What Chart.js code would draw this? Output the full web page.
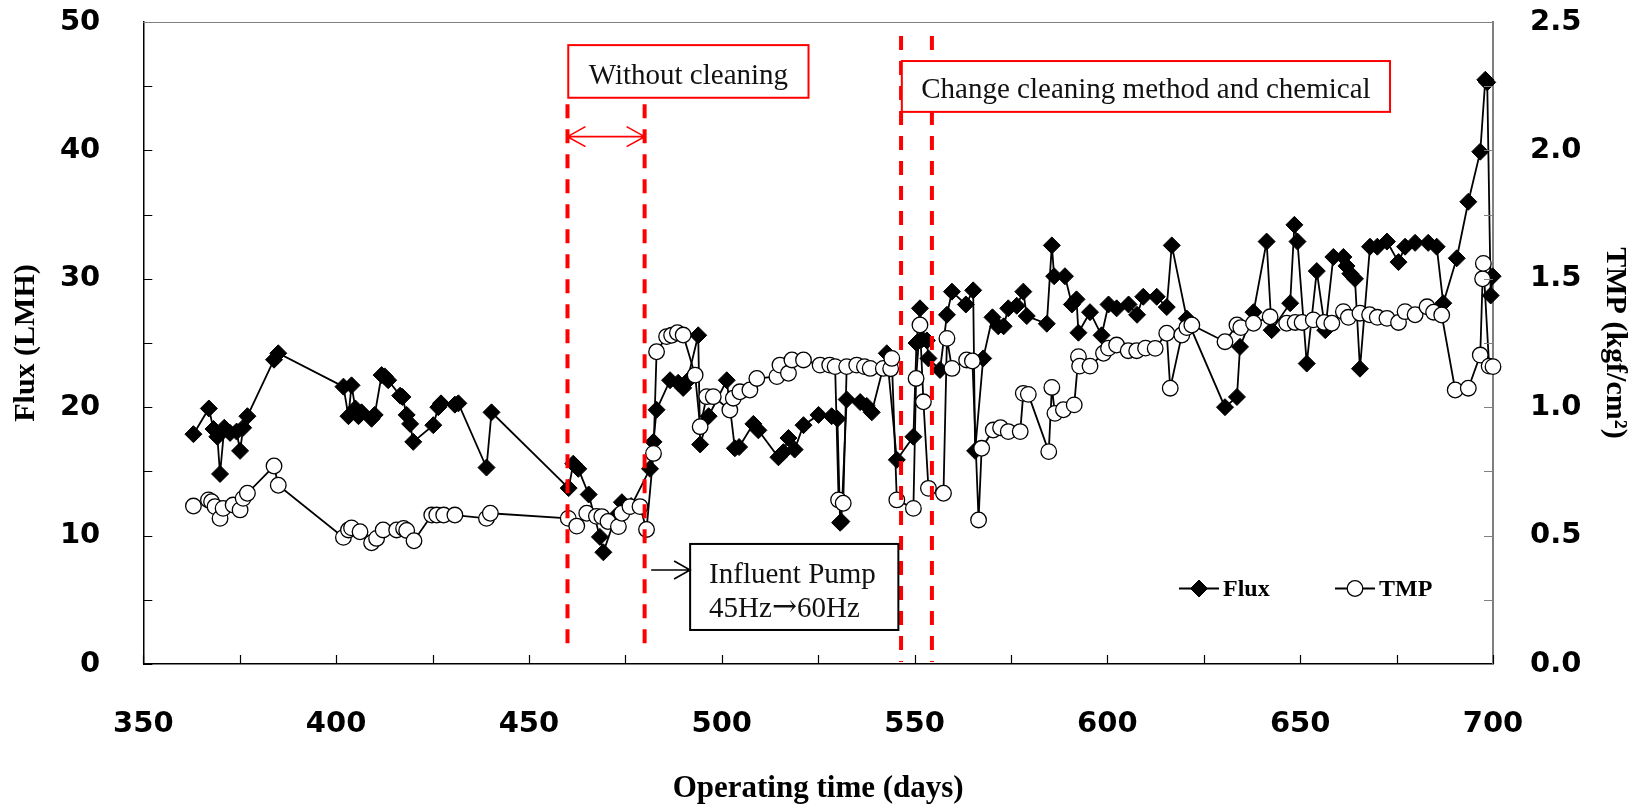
<!DOCTYPE html>
<html>
<head>
<meta charset="utf-8">
<script src="https://cdn.jsdelivr.net/npm/chart.js@4/dist/chart.umd.min.js"></script>
<style>
  body { margin: 0; background: #fff; }
  canvas { display: block; }
</style>
</head>
<body>
<canvas id="fluxChart" width="1642" height="810"></canvas>
<script>
// operating days and flux (LMH)
const fluxDays = [363.0, 367.0, 368.2, 369.2, 369.9, 371.0, 372.5, 374.2, 375.1, 375.9, 377.0, 383.9, 385.0,
  401.9, 403.2, 404.0, 405.0, 405.8, 406.6, 409.2, 410.0, 411.8, 412.6, 413.5, 416.6, 417.2, 418.3, 419.2, 420.0,
  425.2, 426.5, 427.2, 430.8, 431.7, 439.0, 440.3, 460.3, 461.5, 462.8, 465.5, 468.4, 469.3, 472.5, 474.1, 476.5,
  481.4, 482.3, 483.1, 486.6, 488.7, 490.0, 491.0, 493.9, 494.4, 496.6, 501.3, 503.4, 504.5, 508.2, 509.5,
  514.7, 516.0, 517.3, 518.9, 521.2, 525.1, 528.5, 530.0, 530.7, 531.0, 532.4, 535.9, 537.6, 538.9, 542.8,
  545.4, 549.7, 550.5, 551.4, 552.0, 553.2, 553.6, 556.6, 558.4, 559.7, 563.3, 565.2, 565.7, 567.8, 570.2,
  571.7, 573.1, 574.3, 576.5, 578.2, 579.1, 584.3, 585.6, 586.2, 589.0, 590.8, 592.0, 592.5, 595.5, 598.5,
  600.3, 602.4, 605.5, 607.7, 609.3, 612.8, 615.4, 616.7, 620.6, 630.5, 633.6, 634.4, 637.9, 641.3, 642.6,
  647.4, 648.5, 649.3, 651.7, 654.3, 656.5, 658.6, 661.2, 662.0, 663.0, 664.2, 665.5, 668.1, 670.0, 672.5,
  675.5, 677.2, 679.8, 683.2, 685.4, 687.1, 690.6, 693.6, 696.7, 698.0, 698.5, 699.4, 699.9];
const fluxValues = [17.9, 19.9, 18.3, 17.7, 14.8, 18.4, 18.0, 18.1, 16.6, 18.4, 19.3, 23.7, 24.2,
  21.6, 19.3, 21.7, 19.9, 19.3, 19.6, 19.1, 19.4, 22.5, 22.4, 22.1, 20.9, 20.8, 19.4, 18.7, 17.3,
  18.6, 20.0, 20.3, 20.2, 20.3, 15.3, 19.6, 13.7, 15.6, 15.2, 13.2, 9.9, 8.7, 11.5, 12.6, 12.3,
  15.2, 17.3, 19.8, 22.1, 21.9, 21.5, 22.0, 25.6, 17.1, 19.3, 22.1, 16.8, 16.9, 18.7, 18.2,
  16.1, 16.5, 17.6, 16.7, 18.6, 19.4, 19.3, 19.1, 11.0, 11.1, 20.6, 20.4, 20.1, 19.6, 24.2,
  15.9, 17.7, 25.0, 27.7, 25.3, 25.2, 23.8, 22.9, 27.2, 29.0, 28.0, 29.1, 16.6, 23.8, 27.0,
  26.3, 26.3, 27.7, 27.9, 29.0, 27.1, 26.5, 32.6, 30.2, 30.2, 28.0, 28.4, 25.8, 27.4, 25.6,
  28.0, 27.7, 28.0, 27.2, 28.6, 28.6, 27.8, 32.6, 26.9, 20.0, 20.8, 24.7, 27.4, 32.9, 26.0,
  28.1, 34.2, 32.9, 23.4, 30.6, 26.0, 31.7, 31.7, 31.0, 30.4, 30.0, 23.0, 32.5, 32.5, 32.9,
  31.3, 32.5, 32.8, 32.8, 32.5, 28.1, 31.6, 36.0, 39.9, 45.5, 45.3, 28.7, 30.2];

// operating days and TMP (kgf/cm2)
const tmpDays = [363.0, 366.9, 367.7, 368.6, 369.9, 370.7, 373.3, 375.1, 375.9, 377.0, 383.9, 385.0,
  401.9, 403.2, 404.0, 406.2, 409.2, 410.5, 412.2, 415.7, 417.5, 418.3, 420.2, 424.8, 426.1, 427.9, 430.8,
  439.0, 440.0, 460.2, 462.4, 465.0, 467.5, 468.9, 470.5, 473.2, 474.1, 476.2, 478.8, 480.5, 482.3, 483.1,
  485.7, 487.0, 488.5, 490.0, 493.1, 494.4, 496.1, 497.8, 502.1, 503.0, 504.7, 507.3, 509.1, 514.3, 515.1,
  517.3, 518.2, 521.2, 525.5, 528.0, 529.4, 530.3, 531.5, 532.4, 535.0, 537.0, 538.5, 541.9, 543.8, 544.1,
  545.4, 549.7, 550.4, 551.4, 552.3, 553.6, 557.5, 558.4, 559.7, 563.5, 565.0, 566.6, 567.4, 570.4, 572.3,
  574.3, 577.4, 578.2, 579.5, 584.8, 585.6, 586.4, 588.6, 591.4, 592.5, 592.8, 595.5, 599.0, 600.3, 602.4,
  605.4, 607.6, 609.9, 612.4, 615.4, 616.3, 619.3, 620.6, 621.9, 630.5, 633.6, 634.6, 637.9, 642.2, 646.5,
  648.7, 650.5, 653.4, 656.2, 658.2, 661.2, 662.5, 665.5, 668.0, 670.0, 672.5, 675.5, 677.2, 679.8, 682.9,
  684.6, 686.7, 690.2, 693.6, 696.7, 697.3, 697.5, 699.0, 700.0];
const tmpValues = [0.615, 0.639, 0.632, 0.613, 0.567, 0.606, 0.619, 0.600, 0.645, 0.665, 0.771, 0.696,
  0.493, 0.522, 0.530, 0.515, 0.472, 0.489, 0.522, 0.522, 0.528, 0.520, 0.480, 0.580, 0.580, 0.580, 0.580,
  0.567, 0.587, 0.567, 0.537, 0.587, 0.575, 0.574, 0.555, 0.535, 0.587, 0.613, 0.613, 0.524, 0.820, 1.216,
  1.275, 1.280, 1.290, 1.281, 1.125, 0.924, 1.041, 1.041, 0.989, 1.035, 1.060, 1.067, 1.112, 1.119, 1.164,
  1.132, 1.184, 1.184, 1.164, 1.164, 1.158, 0.639, 0.626, 1.158, 1.164, 1.158, 1.151, 1.151, 1.150, 1.190,
  0.639, 0.606, 1.112, 1.320, 1.021, 0.684, 0.665, 1.268, 1.151, 1.184, 1.180, 0.561, 0.840, 0.911, 0.920,
  0.905, 0.905, 1.054, 1.050, 0.827, 1.077, 0.976, 0.990, 1.009, 1.197, 1.160, 1.160, 1.210, 1.230, 1.242,
  1.220, 1.220, 1.230, 1.229, 1.288, 1.074, 1.281, 1.310, 1.320, 1.255, 1.320, 1.310, 1.327, 1.352, 1.327,
  1.330, 1.330, 1.340, 1.330, 1.327, 1.372, 1.350, 1.366, 1.360, 1.350, 1.346, 1.330, 1.372, 1.360, 1.391,
  1.370, 1.359, 1.067, 1.074, 1.203, 1.500, 1.560, 1.160, 1.158];

const seriesNames = ['Flux', 'TMP'];
const cleaningLines = [460, 480, 546.5, 554.5];

const serif = '"Liberation Serif", "Times New Roman", serif';
const sans = '"DejaVu Sans", Verdana, sans-serif';

function toPoints(xs, ys) {
  return xs.map((x, i) => ({ x: x, y: ys[i] }));
}

// inward tick marks and the grey top frame
const tickMarks = {
  id: 'tickMarks',
  afterDraw(chart) {
    const { ctx, chartArea: a, scales } = chart;
    const len = 9;
    ctx.save();
    ctx.lineWidth = 1.2;
    ctx.strokeStyle = '#000';
    ctx.beginPath();
    scales.x.ticks.forEach(t => {
      const px = Math.round(scales.x.getPixelForValue(t.value)) + 0.5;
      ctx.moveTo(px, a.bottom);
      ctx.lineTo(px, a.bottom - len);
    });
    scales.y.ticks.forEach(t => {
      const py = Math.round(scales.y.getPixelForValue(t.value)) + 0.5;
      ctx.moveTo(a.left, py);
      ctx.lineTo(a.left + len, py);
    });
    ctx.stroke();
    ctx.strokeStyle = '#808080';
    ctx.beginPath();
    scales.y1.ticks.forEach(t => {
      const py = Math.round(scales.y1.getPixelForValue(t.value)) + 0.5;
      ctx.moveTo(a.right, py);
      ctx.lineTo(a.right - len, py);
    });
    ctx.moveTo(a.left, a.top + 0.5);
    ctx.lineTo(a.right, a.top + 0.5);
    ctx.stroke();
    ctx.restore();
  }
};

function arrowHead(ctx, x, y, dir, len, half) {
  ctx.moveTo(x - dir * len, y - half);
  ctx.lineTo(x, y);
  ctx.lineTo(x - dir * len, y + half);
}

// red dashed cleaning lines, the text boxes and arrows
const notes = {
  id: 'notes',
  afterDatasetsDraw(chart) {
    const { ctx, scales } = chart;
    const X = v => scales.x.getPixelForValue(v);
    const Y = v => scales.y.getPixelForValue(v);
    ctx.save();

    ctx.strokeStyle = '#ff0000';
    ctx.lineWidth = 4;
    ctx.setLineDash([14, 11]);
    cleaningLines.forEach((d, i) => {
      const top = i < 2 ? 43.6 : 48.9;
      const bot = i < 2 ? 1.1 : 0.15;
      ctx.beginPath();
      ctx.moveTo(X(d), Y(top));
      ctx.lineTo(X(d), Y(bot));
      ctx.stroke();
    });
    ctx.setLineDash([]);

    // double arrow between the first two lines
    const ay = Y(41.07);
    ctx.lineWidth = 1.6;
    ctx.beginPath();
    ctx.moveTo(X(460), ay);
    ctx.lineTo(X(480), ay);
    arrowHead(ctx, X(460), ay, -1, 18, 10);
    arrowHead(ctx, X(480), ay, 1, 18, 10);
    ctx.stroke();

    const box = (d0, d1, f0, f1, color) => {
      const x0 = X(d0), x1 = X(d1), y0 = Y(f0), y1 = Y(f1);
      ctx.fillStyle = '#fff';
      ctx.fillRect(x0, y0, x1 - x0, y1 - y0);
      ctx.strokeStyle = color;
      ctx.lineWidth = 2;
      ctx.strokeRect(x0, y0, x1 - x0, y1 - y0);
      ctx.fillStyle = '#111';
      return { x0, x1, y0, y1 };
    };
    ctx.font = '29px ' + serif;
    ctx.textAlign = 'center';
    ctx.textBaseline = 'alphabetic';

    let b = box(460.2, 522.5, 48.2, 44.1, '#ff0000');
    ctx.fillText('Without cleaning', (b.x0 + b.x1) / 2, b.y0 + 0.73 * (b.y1 - b.y0));

    b = box(546.7, 673.3, 46.96, 43.0, '#ff0000');
    ctx.fillText('Change cleaning method and chemical', (b.x0 + b.x1) / 2, b.y0 + 0.73 * (b.y1 - b.y0));

    b = box(491.8, 545.8, 9.35, 2.65, '#000');
    ctx.textAlign = 'left';
    const tx = b.x0 + 19;
    ctx.fillText('Influent Pump', tx, b.y0 + 39);
    // second line: the arrow glyph is small in Liberation Serif, so use DejaVu for it
    const l2 = b.y0 + 73;
    ctx.fillText('45Hz', tx, l2);
    let w = ctx.measureText('45Hz').width;
    ctx.font = '30px "DejaVu Serif", serif';
    ctx.fillText('\u2192', tx + w, l2 - 1);
    w += ctx.measureText('\u2192').width;
    ctx.font = '29px ' + serif;
    ctx.fillText('60Hz', tx + w, l2);

    // small black arrow to the pump box
    const py = Y(7.32);
    ctx.strokeStyle = '#000';
    ctx.lineWidth = 1.6;
    ctx.beginPath();
    ctx.moveTo(X(481.7), py);
    ctx.lineTo(b.x0, py);
    arrowHead(ctx, b.x0, py, 1, 16, 9);
    ctx.stroke();

    ctx.restore();
  }
};

// legend drawn inside the plot area, lower right
const innerLegend = {
  id: 'innerLegend',
  afterDraw(chart) {
    const { ctx, chartArea: a } = chart;
    const y = a.bottom - 75.5;
    const entries = [a.right - 294, a.right - 138];
    ctx.save();
    ctx.font = 'bold 24px ' + serif;
    ctx.textBaseline = 'middle';
    ctx.textAlign = 'left';
    chart.data.datasets.forEach((ds, i) => {
      const cx = entries[i];
      ctx.strokeStyle = '#000';
      ctx.lineWidth = ds.borderWidth;
      ctx.beginPath();
      ctx.moveTo(cx - 20, y);
      ctx.lineTo(cx + 20, y);
      ctx.stroke();
      ctx.fillStyle = ds.pointBackgroundColor;
      ctx.strokeStyle = ds.pointBorderColor;
      ctx.lineWidth = ds.pointBorderWidth;
      Chart.helpers.drawPoint(ctx, {
        pointStyle: ds.pointStyle, radius: ds.pointRadius,
        borderWidth: ds.pointBorderWidth, rotation: 0
      }, cx, y);
      ctx.fillStyle = '#000';
      ctx.fillText(ds.label, cx + 24, y + 1);
    });
    ctx.restore();
  }
};

const yFit = w => s => {
  s.width = w;
  s.paddingTop = 0;
  s.paddingBottom = 0;
};

const ctx = document.getElementById('fluxChart').getContext('2d');

new Chart(ctx, {
  type: 'line',
  data: {
    datasets: [
      {
        label: seriesNames[0],
        data: toPoints(fluxDays, fluxValues),
        yAxisID: 'y',
        borderColor: '#000',
        borderWidth: 1.8,
        pointStyle: 'rectRot',
        pointRadius: 8.5,
        pointBackgroundColor: '#000',
        pointBorderColor: '#000',
        pointBorderWidth: 1,
        tension: 0,
        clip: false,
        order: 1
      },
      {
        label: seriesNames[1],
        data: toPoints(tmpDays, tmpValues),
        yAxisID: 'y1',
        borderColor: '#000',
        borderWidth: 1.8,
        pointStyle: 'circle',
        pointRadius: 7.8,
        pointBackgroundColor: '#fff',
        pointBorderColor: '#000',
        pointBorderWidth: 1.3,
        tension: 0,
        clip: false,
        order: 0
      }
    ]
  },
  options: {
    responsive: false,
    animation: false,
    devicePixelRatio: 1,
    layout: { padding: { top: 22, left: 0, right: 0, bottom: 0 } },
    plugins: {
      legend: { display: false },
      tooltip: { enabled: false }
    },
    scales: {
      x: {
        type: 'linear',
        min: 350,
        max: 700,
        afterFit: s => { s.height = 146; s.paddingLeft = 0; s.paddingRight = 0; },
        grid: { display: false },
        border: { display: true, color: '#000', width: 1.5 },
        ticks: {
          stepSize: 25,
          autoSkip: false,
          maxRotation: 0,
          padding: 35,
          color: '#000',
          font: { family: sans, size: 29, weight: 'bold' },
          callback: v => (v % 50 === 0 ? v : '')
        },
        title: {
          display: true,
          text: 'Operating time (days)',
          color: '#000',
          font: { family: serif, size: 31, weight: 'bold' },
          padding: { top: 0, bottom: 2 }
        }
      },
      y: {
        position: 'left',
        min: 0,
        max: 50,
        afterFit: yFit(143.3),
        grid: { display: false },
        border: { display: true, color: '#000', width: 1.5 },
        ticks: {
          stepSize: 5,
          autoSkip: false,
          padding: 35,
          color: '#000',
          font: { family: sans, size: 29, weight: 'bold' },
          callback: v => (v % 10 === 0 ? v : '')
        },
        title: {
          display: true,
          text: 'Flux (LMH)',
          color: '#000',
          font: { family: serif, size: 30, weight: 'bold' },
          padding: { top: 8, bottom: 0 }
        }
      },
      y1: {
        position: 'right',
        min: 0,
        max: 2.5,
        afterFit: yFit(149),
        grid: { display: false },
        border: { display: true, color: '#808080', width: 2 },
        ticks: {
          stepSize: 0.25,
          autoSkip: false,
          padding: 29,
          color: '#000',
          font: { family: sans, size: 29, weight: 'bold' },
          callback: v => (Math.abs(v * 2 - Math.round(v * 2)) < 1e-6 ? v.toFixed(1) : '')
        },
        title: {
          display: true,
          text: 'TMP (kgf/cm\u00b2)',
          color: '#000',
          font: { family: serif, size: 30, weight: 'bold' },
          padding: { top: 9, bottom: 0 }
        }
      }
    }
  },
  plugins: [notes, tickMarks, innerLegend]
});
</script>
</body>
</html>
